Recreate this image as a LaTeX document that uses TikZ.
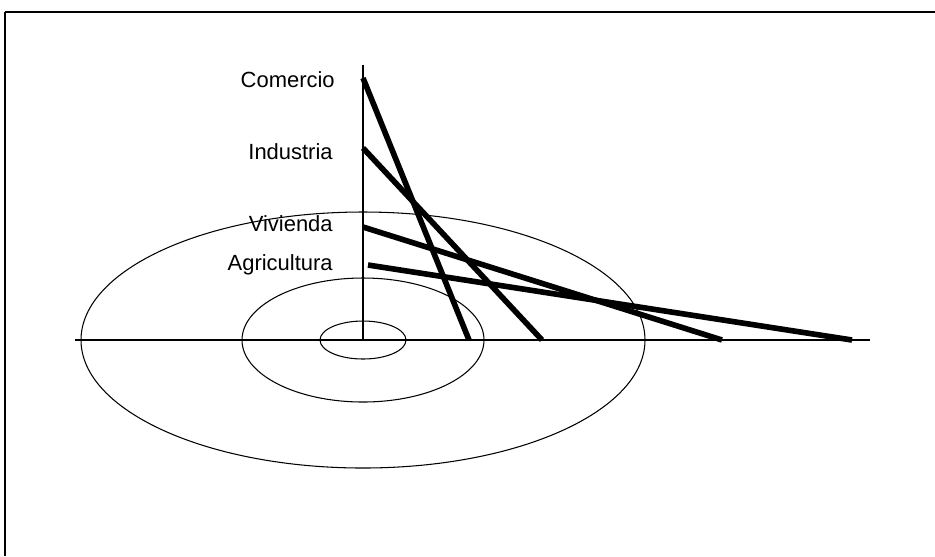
\documentclass[tikz,border=0pt]{standalone}
\usepackage{fontspec}
\setmainfont{Liberation Sans}
\begin{document}
\begin{tikzpicture}[x=0.02cm, y=-0.02cm,
    thinline/.style={line width=0.6pt},
    rentline/.style={line width=3.2pt},
    sectorname/.style={left, inner sep=0pt, font=\fontsize{12.5}{14}\selectfont}]
    \useasboundingbox (0,0) rectangle (935,556);

    % Frame
    \draw[thinline] (5,556) -- (5,12);
    \draw[line width=0.9pt] (5,12) -- (935,12);

    % Axes
    \coordinate (o) at (363,340);
    \coordinate (xl) at (75,340);
    \coordinate (xr) at (870,340);
    \coordinate (yt) at (363,65);
    \draw[thinline] (xl) -- (xr);
    \draw[thinline] (yt) -- (o);

    % Rings around the centre
    \draw[thinline] (o) ellipse [x radius=43, y radius=19];
    \draw[thinline] (o) ellipse [x radius=121, y radius=62];
    \draw[thinline] (o) ellipse [x radius=282, y radius=128];

    % Sector names
    \node[sectorname] (comercio) at (335,80) {Comercio};
    \node[sectorname] (industria) at (333,152) {Industria};
    \node[sectorname] (vivienda) at (333,224) {Vivienda};
    \node[sectorname] (agricultura) at (333,265) {Agricultura};

    % Bid-rent lines
    \coordinate (com-a) at (363,78);
    \coordinate (com-b) at (469,340);
    \coordinate (ind-a) at (363,148);
    \coordinate (ind-b) at (542,340);
    \coordinate (viv-a) at (363,227);
    \coordinate (viv-b) at (722,340);
    \coordinate (agr-a) at (368,265);
    \coordinate (agr-b) at (852,340);
    \draw[rentline] (com-a) -- (com-b);
    \draw[rentline] (ind-a) -- (ind-b);
    \draw[rentline] (viv-a) -- (viv-b);
    \draw[rentline] (agr-a) -- (agr-b);
\end{tikzpicture}
\end{document}
